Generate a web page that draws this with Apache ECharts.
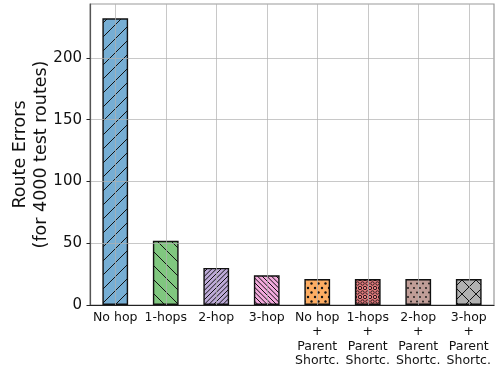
<!DOCTYPE html>
<html>
<head>
<meta charset="utf-8">
<script src="https://cdn.jsdelivr.net/npm/echarts@6/dist/echarts.min.js"></script>
<style>
  html, body { margin: 0; padding: 0; background: #fff; }
  #chart { width: 498px; height: 370px; }
</style>
</head>
<body>
<div id="chart"></div>
<script>
// Route error counts per routing variant
const categories = [
  'No hop', '1-hops', '2-hop', '3-hop',
  'No hop\n+\nParent\nShortc.', '1-hops\n+\nParent\nShortc.',
  '2-hop\n+\nParent\nShortc.', '3-hop\n+\nParent\nShortc.'
];
const routeErrors = [232, 52, 30, 24, 21, 21, 21, 21];
const yTicks = [0, 50, 100, 150, 200];
const yMax = 243.6;

const FONT = 'DejaVu Sans';
const INK = '#111';

// Build a repeating fill texture: base colour plus a black hatch motif
function texture(fill, w, h, draw) {
  const c = document.createElement('canvas');
  c.width = w; c.height = h;
  const g = c.getContext('2d');
  g.fillStyle = fill;
  g.fillRect(0, 0, w, h);
  g.strokeStyle = INK;
  g.fillStyle = INK;
  g.lineWidth = 1;
  draw(g, w, h);
  return { image: c, repeat: 'repeat' };
}

// diagonal lines, n per tile; dir '/' or '\\'
function diag(n, dir) {
  return function (g, s) {
    g.beginPath();
    for (let k = -n; k <= 2 * n; k++) {
      const c = k * s / n;
      if (dir === '/') { g.moveTo(c + 2, -2); g.lineTo(c - s - 2, s + 2); }
      else { g.moveTo(c - 2, -2); g.lineTo(c + s + 2, s + 2); }
    }
    g.stroke();
  };
}

// staggered circles: corners + centre of the tile
function spots(r, filled, lw) {
  return function (g, w, h) {
    const pts = [[0, 0], [w, 0], [0, h], [w, h], [w / 2, h / 2]];
    g.lineWidth = lw || 1;
    pts.forEach(function (p) {
      g.beginPath();
      g.arc(p[0], p[1], r, 0, Math.PI * 2);
      if (filled) g.fill(); else g.stroke();
    });
  };
}

function cross(g, s) {
  diag(1, '/')(g, s);
  diag(1, '\\')(g, s);
}

const fills = [
  texture('#76aed4', 14, 14, diag(1, '/')),
  texture('#80c77f', 14, 14, diag(1, '\\')),
  texture('#bdaad8', 14, 14, diag(3, '/')),
  texture('#f2a9dc', 14, 14, diag(3, '\\')),
  texture('#fdad63', 7, 9, spots(1.2, true)),
  texture('#ec7f82', 5, 9, spots(1.7, false, 0.9)),
  texture('#c09d97', 6, 9, spots(0.9, true)),
  texture('#b1b1b1', 14, 14, cross)
];

const chart = echarts.init(document.getElementById('chart'), null, { renderer: 'canvas' });

chart.setOption({
  animation: false,
  backgroundColor: '#fff',
  grid: {
    left: 90, right: 4, top: 4, bottom: 65,
    containLabel: false,
    outerBoundsMode: 'none',
    show: true, borderColor: '#999', borderWidth: 1.2, backgroundColor: 'transparent'
  },
  xAxis: {
    type: 'category',
    data: categories,
    z: 3,
    axisLine: { lineStyle: { color: '#222', width: 1.2 } },
    axisTick: { alignWithLabel: true, length: 3.5, lineStyle: { color: '#222' } },
    axisLabel: {
      interval: 0, margin: 5, fontFamily: FONT, fontSize: 12.5, lineHeight: 14.5, color: INK
    },
    splitLine: { show: true, alignWithLabel: true, lineStyle: { color: 'rgba(176,176,176,0.7)', width: 1 } }
  },
  yAxis: {
    type: 'value',
    min: 0, max: yMax, interval: 50,
    z: 3,
    name: 'Route Errors\n(for 4000 test routes)',
    nameLocation: 'middle',
    nameRotate: 90,
    nameGap: 38,
    nameMoveOverlap: false,
    nameTextStyle: { fontFamily: FONT, fontSize: 17.5, lineHeight: 21, color: INK },
    axisLine: { show: true, lineStyle: { color: '#555', width: 1.2 } },
    axisTick: { show: true, length: 3.5, customValues: yTicks, lineStyle: { color: '#222' } },
    axisLabel: {
      margin: 8, fontFamily: FONT, fontSize: 15, color: INK,
      customValues: yTicks
    },
    splitLine: { show: true, lineStyle: { color: 'rgba(176,176,176,0.7)', width: 1 } }
  },
  series: [{
    type: 'bar',
    barWidth: '51%',
    data: routeErrors.map(function (v, i) {
      return { value: v, itemStyle: { color: fills[i] } };
    }),
    itemStyle: { borderColor: INK, borderWidth: 1.4 }
  }]
});
</script>
</body>
</html>
